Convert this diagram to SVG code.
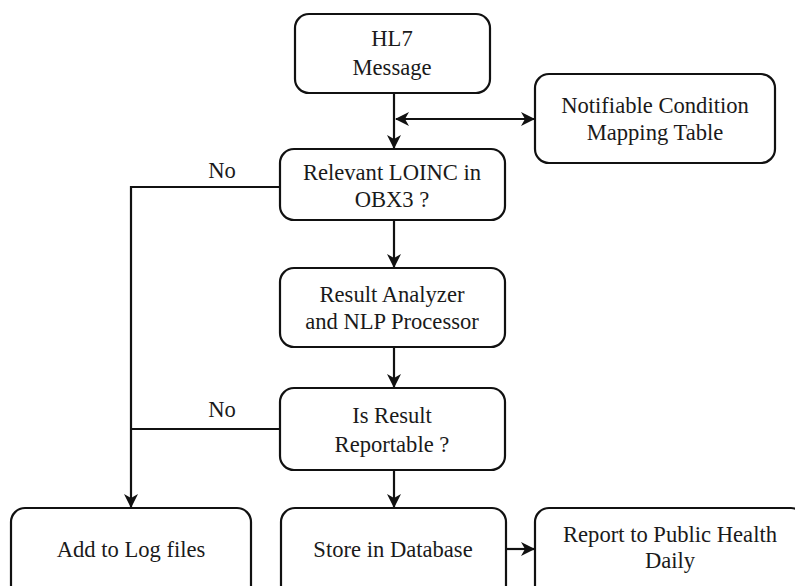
<svg xmlns="http://www.w3.org/2000/svg" width="795" height="586" viewBox="0 0 795 586" font-family="'Liberation Serif', 'Times New Roman', serif">
<style>
.box{fill:#fff;stroke:#111;stroke-width:2.2}
.t{font-size:22.6px;fill:#1a1a1a;text-anchor:middle}
.c{fill:none;stroke:#111;stroke-width:2.2}
</style>
<defs>
<marker id="ah" viewBox="0 0 14 14" refX="13" refY="7" markerWidth="14" markerHeight="14" markerUnits="userSpaceOnUse" orient="auto-start-reverse">
<path d="M0,0 L14,7 L0,14 L4,7 Z" fill="#111"/>
</marker>
</defs>
<rect width="795" height="586" fill="#fff"/>
<g id="connectors">
<path class="c" d="M394,93 V148" marker-end="url(#ah)"/>
<path class="c" d="M396,119 H534" marker-start="url(#ah)" marker-end="url(#ah)"/>
<path class="c" d="M394,220 V267" marker-end="url(#ah)"/>
<path class="c" d="M394,347 V387" marker-end="url(#ah)"/>
<path class="c" d="M394,470 V507" marker-end="url(#ah)"/>
<path class="c" d="M280,187 H131 V507" marker-end="url(#ah)"/>
<path class="c" d="M280,429 H131"/>
<path class="c" d="M506,549 H534" marker-end="url(#ah)"/>
<text class="t" x="222" y="178">No</text>
<text class="t" x="222" y="417">No</text>
</g>
<g id="hl7">
<rect class="box" x="295" y="14" width="195" height="79" rx="14"/>
<text class="t" x="392" y="46">HL7</text>
<text class="t" x="392" y="75">Message</text>
</g>
<g id="mapping">
<rect class="box" x="535" y="74" width="240" height="89" rx="14"/>
<text class="t" x="655" y="113">Notifiable Condition</text>
<text class="t" x="655" y="140">Mapping Table</text>
</g>
<g id="loinc">
<rect class="box" x="280" y="149" width="225" height="71" rx="14"/>
<text class="t" x="392" y="180">Relevant LOINC in</text>
<text class="t" x="392" y="207">OBX3 ?</text>
</g>
<g id="analyzer">
<rect class="box" x="280" y="268" width="225" height="79" rx="14"/>
<text class="t" x="392" y="302">Result Analyzer</text>
<text class="t" x="392" y="329">and NLP Processor</text>
</g>
<g id="reportable">
<rect class="box" x="280" y="388" width="225" height="82" rx="14"/>
<text class="t" x="392" y="423">Is Result</text>
<text class="t" x="392" y="452">Reportable ?</text>
</g>
<g id="log">
<rect class="box" x="11" y="508" width="240" height="100" rx="14"/>
<text class="t" x="131" y="557">Add to Log files</text>
</g>
<g id="store">
<rect class="box" x="281" y="508" width="225" height="100" rx="14"/>
<text class="t" x="393" y="557">Store in Database</text>
</g>
<g id="report">
<rect class="box" x="535" y="508" width="270" height="100" rx="14"/>
<text class="t" x="670" y="542">Report to Public Health</text>
<text class="t" x="670" y="568">Daily</text>
</g>
</svg>
